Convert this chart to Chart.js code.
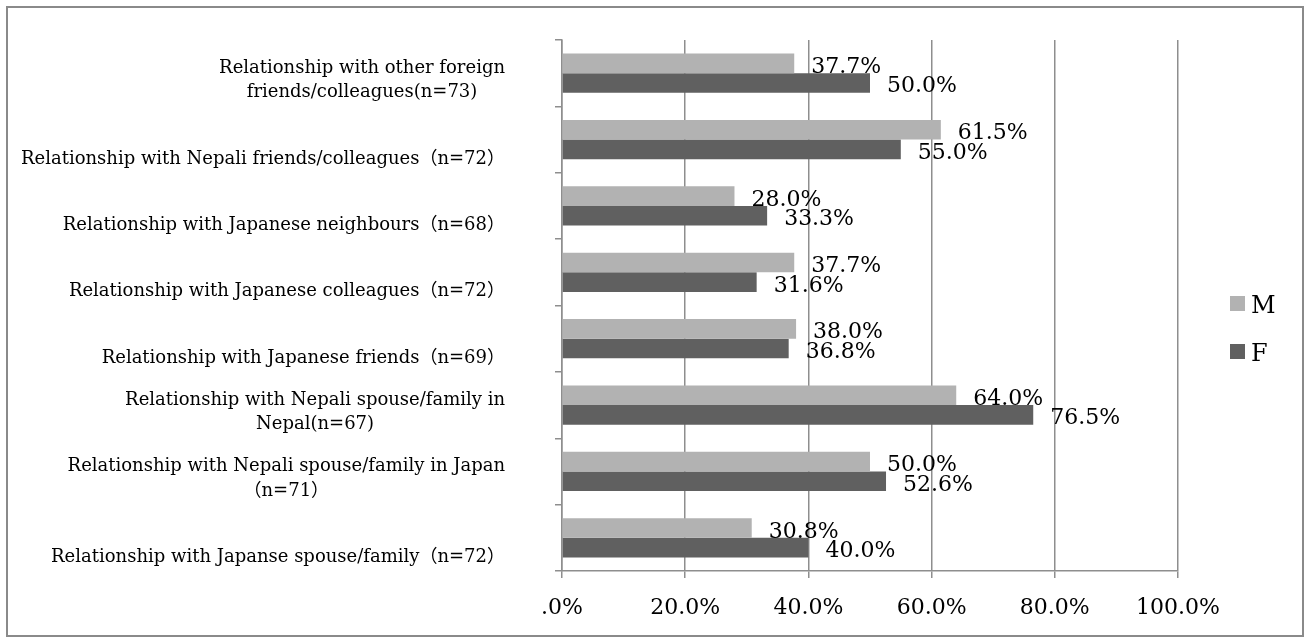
<!DOCTYPE html>
<html>
<head>
<meta charset="utf-8">
<script src="https://cdn.jsdelivr.net/npm/chart.js@4.4.1/dist/chart.umd.min.js"></script>
<style>
    html, body { margin: 0; padding: 0; background: #fff; }
    #wrap { position: relative; width: 1309px; height: 643px; }
    #frame {
        position: absolute; left: 6px; top: 6px; width: 1298px; height: 631px;
        box-sizing: border-box; border: 2px solid #8a8a8a; pointer-events: none;
    }
</style>
</head>
<body>
<div id="wrap">
    <canvas id="relChart"></canvas>
    <div id="frame"></div>
</div>
<script>
// Category labels (each entry is a list of lines), top to bottom
const categories = [
    ['Relationship with other foreign', 'friends/colleagues(n=73)'],
    ['Relationship with Nepali friends/colleagues（n=72）'],
    ['Relationship with Japanese neighbours（n=68）'],
    ['Relationship with Japanese colleagues（n=72）'],
    ['Relationship with Japanese friends（n=69）'],
    ['Relationship with Nepali spouse/family in', 'Nepal(n=67)'],
    ['Relationship with Nepali spouse/family in Japan', '（n=71）'],
    ['Relationship with Japanse spouse/family（n=72）']
];
const seriesNames = ['M', 'F'];
const maleValues = [37.7, 61.5, 28.0, 37.7, 38.0, 64.0, 50.0, 30.8];
const femaleValues = [50.0, 55.0, 33.3, 31.6, 36.8, 76.5, 52.6, 40.0];
const xTicks = [0, 20, 40, 60, 80, 100];

const SERIF = "'DejaVu Serif', 'Noto Sans CJK JP', serif";
const LABEL_FONT = "18px 'DejaVu Serif', 'Noto Sans CJK JP', serif";
const GRID = '#8e8e8e';

// Draws the wrapped category names, the value labels and the legend
const annotate = {
    id: 'annotate',
    afterDraw(chart) {
        const ctx = chart.ctx;
        const yScale = chart.scales.y;
        ctx.save();

        // category names: lines centred on each other, block right-aligned
        ctx.font = LABEL_FONT;
        ctx.fillStyle = '#000';
        ctx.textAlign = 'center';
        ctx.textBaseline = 'middle';
        const rightEdge = 505;
        categories.forEach((lines, i) => {
            const c = yScale.getPixelForValue(i);
            const maxW = Math.max(...lines.map(l => ctx.measureText(l).width));
            const cx = rightEdge - maxW / 2;
            lines.forEach((line, k) => {
                const y = c + 19.5 - (lines.length - 1 - k) * 24.5;
                ctx.fillText(line, cx, y);
            });
        });

        // value labels at the bar ends
        ctx.font = '22px ' + SERIF;
        ctx.textAlign = 'left';
        ctx.textBaseline = 'alphabetic';
        chart.data.datasets.forEach((ds, di) => {
            chart.getDatasetMeta(di).data.forEach((bar, i) => {
                ctx.fillText(ds.data[i].toFixed(1) + '%', bar.x + 17, bar.y + 9.5);
            });
        });

        // legend
        const legendY = [303.5, 351.5];
        ctx.font = '24px ' + SERIF;
        chart.data.datasets.forEach((ds, di) => {
            ctx.fillStyle = ds.backgroundColor;
            ctx.fillRect(1230, legendY[di] - 7.5, 15, 15);
            ctx.fillStyle = '#000';
            ctx.fillText(ds.label, 1251, legendY[di] + 9);
        });
        ctx.restore();
    }
};

const ctx = document.getElementById('relChart').getContext('2d');
const relChart = new Chart(ctx, {
    type: 'bar',
    data: {
        labels: categories,
        datasets: [
            {
                label: seriesNames[0],
                data: maleValues,
                backgroundColor: '#b2b2b2',
                categoryPercentage: 0.59,
                barPercentage: 1.0
            },
            {
                label: seriesNames[1],
                data: femaleValues,
                backgroundColor: '#606060',
                categoryPercentage: 0.59,
                barPercentage: 1.0
            }
        ]
    },
    options: {
        indexAxis: 'y',
        responsive: true,
        maintainAspectRatio: false,
        animation: false,
        layout: {
            padding: { top: 40, right: 131, bottom: 0, left: 0 }
        },
        plugins: {
            legend: { display: false },
            tooltip: { enabled: false }
        },
        scales: {
            x: {
                min: 0,
                max: 100,
                afterBuildTicks: scale => {
                    scale.ticks = xTicks.map(v => ({ value: v }));
                },
                afterFit: scale => { scale.height = 72; },
                ticks: {
                    color: '#000',
                    font: { family: SERIF, size: 22 },
                    padding: 17,
                    callback: v => v === 0 ? '.0%' : v.toFixed(1) + '%'
                },
                grid: { color: GRID, lineWidth: 1.5, tickLength: 7 },
                border: { color: GRID, width: 1.5 }
            },
            y: {
                afterFit: scale => { scale.width = 562; },
                ticks: {
                    color: 'rgba(0,0,0,0)',
                    font: { family: SERIF, size: 16 }
                },
                grid: { drawOnChartArea: false, color: GRID, lineWidth: 1.5, tickLength: 7 },
                border: { color: GRID, width: 1.5 }
            }
        }
    },
    plugins: [annotate]
});
</script>
</body>
</html>
